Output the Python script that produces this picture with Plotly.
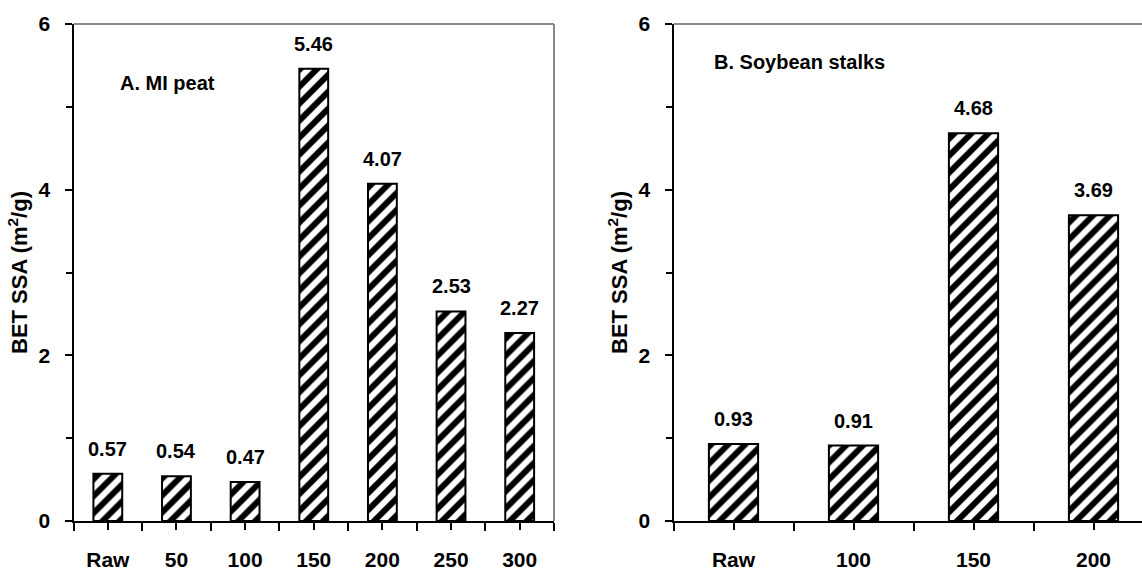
import plotly.graph_objects as go

# ---- data ----
cats_a = ["Raw", "50", "100", "150", "200", "250", "300"]
vals_a = [0.57, 0.54, 0.47, 5.46, 4.07, 2.53, 2.27]
cats_b = ["Raw", "100", "150", "200"]
vals_b = [0.93, 0.91, 4.68, 3.69]
label_a = "A. MI peat"
label_b = "B. Soybean stalks"
y_title = "BET SSA (m<sup>2</sup>/g)"
y_ticks = [0, 2, 4, 6]

FONT = "Liberation Sans, Arial, sans-serif"
W, H = 1142, 571

fig = go.Figure()

def add_bars(cats, vals, xa, ya, width):
    xs = list(range(len(cats)))
    fig.add_trace(go.Bar(
        x=xs, y=vals, xaxis=xa, yaxis=ya, width=width,
        marker=dict(color="white", line=dict(color="black", width=2),
                    pattern=dict(shape="/", fgcolor="#000000", bgcolor="#ffffff",
                                 fgopacity=1, size=12, solidity=0.5)),
        showlegend=False, hoverinfo="x+y"))
    for x, v in zip(xs, vals):
        fig.add_annotation(x=x, y=v, xref=xa, yref=ya, text=f"<b>{v:.2f}</b>",
                           showarrow=False, yanchor="bottom", yshift=12,
                           font=dict(family=FONT, size=20, color="black"))

add_bars(cats_a, vals_a, "x", "y", 0.42)
add_bars(cats_b, vals_b, "x2", "y2", 0.41)

ax_left = 73.5 / W
ax_right = 554 / W
bx_left = 673.5 / W
slot_b = 120.0
xb_end = -0.5 + (W - 673.5) / slot_b

def xaxis(cats, domain, rng):
    return dict(domain=domain, range=rng,
                tickmode="array", tickvals=list(range(len(cats))),
                ticktext=[f"<b>{c}</b>" for c in cats],
                ticks="outside", ticklen=7, tickwidth=2, tickcolor="black",
                minor=dict(tickmode="array",
                           tickvals=[i - 0.5 for i in range(len(cats) + 1)],
                           ticks="outside", ticklen=8, tickwidth=2, tickcolor="black"),
                showline=True, linecolor="black", linewidth=2,
                showgrid=False, zeroline=False, fixedrange=True,
                ticklabelstandoff=12,
                tickfont=dict(family=FONT, size=21, color="black"))

def yaxis(anchor):
    return dict(range=[0, 6], anchor=anchor, domain=[0, 1],
                tickmode="array", tickvals=y_ticks,
                ticktext=[f"<b>{t}</b>" for t in y_ticks],
                ticks="outside", ticklen=7, tickwidth=2, tickcolor="black",
                minor=dict(tickmode="array", tickvals=[1, 3, 5], ticks="outside",
                           ticklen=6, tickwidth=2, tickcolor="black"),
                showline=True, linecolor="black", linewidth=2,
                showgrid=False, zeroline=False, fixedrange=True,
                ticklabelstandoff=10,
                tickfont=dict(family=FONT, size=21, color="black"),
                title=dict(text=f"<b>{y_title}</b>", standoff=5,
                           font=dict(family=FONT, size=22, color="black")))

xa = xaxis(cats_a, [ax_left, ax_right], [-0.5, len(cats_a) - 0.5])
xa["anchor"] = "y"
xb = xaxis(cats_b, [bx_left, 1.0], [-0.5, xb_end])
xb["anchor"] = "y2"

fig.update_layout(
    width=W, height=H,
    margin=dict(l=0, r=0, t=24, b=46),
    paper_bgcolor="white", plot_bgcolor="white",
    xaxis=xa, yaxis=yaxis("x"),
    xaxis2=xb, yaxis2=yaxis("x2"),
    font=dict(family=FONT, color="black"),
    bargap=0.5,
)

# gray top / right frame lines
gray = "#888888"
fig.add_shape(type="line", xref="x domain", yref="y domain", x0=0, x1=1, y0=1, y1=1,
              line=dict(color=gray, width=2))
fig.add_shape(type="line", xref="x domain", yref="y domain", x0=1, x1=1, y0=0, y1=1,
              line=dict(color=gray, width=2))
fig.add_shape(type="line", xref="x2 domain", yref="y2 domain", x0=0, x1=1, y0=1, y1=1,
              line=dict(color=gray, width=2))

# panel labels
fig.add_annotation(xref="paper", yref="paper", x=118 / W, y=1 - (83 - 24) / (H - 70),
                   xanchor="left", yanchor="middle", showarrow=False,
                   text=f"<b>{label_a}</b>", font=dict(family=FONT, size=20, color="black"))
fig.add_annotation(xref="paper", yref="paper", x=712 / W, y=1 - (62 - 24) / (H - 70),
                   xanchor="left", yanchor="middle", showarrow=False,
                   text=f"<b>{label_b}</b>", font=dict(family=FONT, size=20, color="black"))

fig.write_html("out.html")
